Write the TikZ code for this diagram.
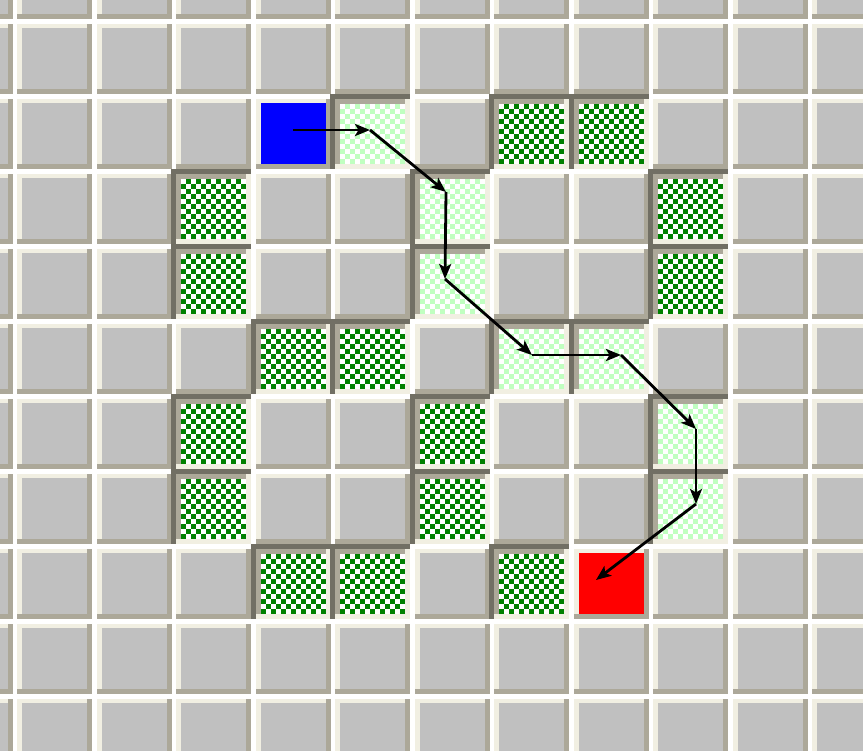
\documentclass[tikz,border=0pt]{standalone}
\usepackage{tikz}
\usetikzlibrary{arrows.meta, positioning}
\definecolor{cellgray}{HTML}{C0C0C0}
\definecolor{edgecream}{HTML}{F1EFE2}
\definecolor{edgetan}{HTML}{ACA899}
\definecolor{edgedark}{HTML}{716F64}
\definecolor{wallgreen}{HTML}{008000}
\definecolor{pathgreen}{HTML}{C0FFC0}

% raised cell: column, row, inner colour
\newcommand{\raisedcell}[3]{%
  \pgfmathsetmacro{\cx}{17+79.5*#1}%
  \pgfmathsetmacro{\cy}{24+75*#2}%
  \fill[edgecream] (\cx,\cy) rectangle ++(75,70);
  \fill[edgetan] (\cx+70,\cy) rectangle ++(5,70);
  \fill[edgetan] (\cx,\cy+65) rectangle ++(75,5);
  \fill[#3] (\cx+5,\cy+4) rectangle (\cx+70,\cy+65);
}
% sunken cell with a checker: column, row, checker colour
\newcommand{\sunkencell}[3]{%
  \pgfmathsetmacro{\cx}{17+79.5*#1}%
  \pgfmathsetmacro{\cy}{24+75*#2}%
  \fill[edgedark] (\cx-5,\cy-5) rectangle (\cx+75,\cy+70);
  \fill[edgecream] (\cx,\cy) rectangle (\cx+75,\cy+70);
  \fill[edgetan] (\cx,\cy) rectangle (\cx+70,\cy+5);
  \fill[edgetan] (\cx,\cy) rectangle (\cx+5,\cy+65);
  \fill[white] (\cx+5,\cy+5) rectangle (\cx+70,\cy+65);
  \foreach \yy in {0,...,11} \foreach \xx in {0,...,12} {
    \pgfmathtruncatemacro{\chk}{mod(\xx+\yy,2)}
    \ifnum\chk=1 \fill[#3] (\cx+5+5*\xx,\cy+5+5*\yy) rectangle ++(5,5); \fi
  }
}

\begin{document}
\begin{tikzpicture}[x=1pt, y=-1pt]
    \tikzstyle{arrow} = [line width=2.8pt, -{Stealth[length=15pt, width=12pt, inset=3.5pt]}]

    \useasboundingbox (0,0) rectangle (863,751);
    \clip (0,0) rectangle (863,751);
    \fill[white] (0,0) rectangle (863,751);

    % board
    \foreach \col in {-1,...,10}
        \foreach \row in {-1,...,9}
            {\raisedcell{\col}{\row}{cellgray}}
    \raisedcell{3}{1}{blue}
    \raisedcell{7}{7}{red}

    % walls
    \foreach \col/\row in {6/1, 7/1, 2/2, 8/2, 2/3, 8/3, 3/4, 4/4, 2/5, 5/5, 2/6, 5/6, 3/7, 4/7, 6/7}
        {\sunkencell{\col}{\row}{wallgreen}}
    % visited path
    \foreach \col/\row in {4/1, 5/2, 5/3, 6/4, 7/4, 8/5, 8/6}
        {\sunkencell{\col}{\row}{pathgreen}}

    \coordinate (start) at (293,130);
    \coordinate (p1) at (370,130);
    \coordinate (p2) at (446,192);
    \coordinate (p3) at (445,279);
    \coordinate (p4) at (532,355);
    \coordinate (p5) at (621,355);
    \coordinate (p6) at (696,429);
    \coordinate (p7) at (696,504);
    \coordinate (goal) at (596,580);

    \draw [arrow] (start) -- (p1);
    \draw [arrow] (p1) -- (p2);
    \draw [arrow] (p2) -- (p3);
    \draw [arrow] (p3) -- (p4);
    \draw [arrow] (p4) -- (p5);
    \draw [arrow] (p5) -- (p6);
    \draw [arrow] (p6) -- (p7);
    \draw [arrow] (p7) -- (goal);
\end{tikzpicture}
\end{document}
